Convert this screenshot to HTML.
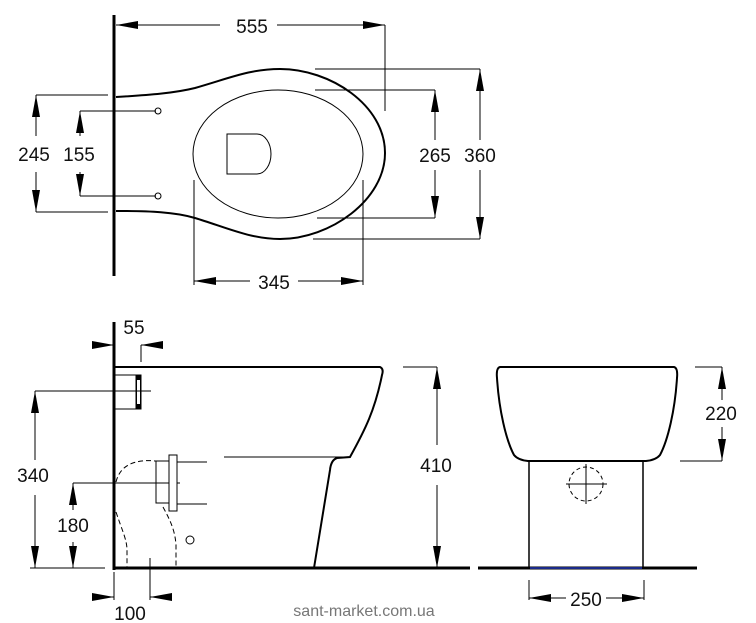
<!DOCTYPE html>
<html><head><meta charset="utf-8"><style>
html,body{margin:0;padding:0;background:#fff;}
svg{display:block;}
text{font-family:"Liberation Sans",sans-serif;font-size:19px;fill:#111;text-anchor:middle;}
</style></head><body>
<svg width="756" height="623" viewBox="0 0 756 623" xmlns="http://www.w3.org/2000/svg">
<defs>
<marker id="b" viewBox="0 0 22 8" refX="22" refY="4" markerWidth="22" markerHeight="8" markerUnits="userSpaceOnUse" orient="auto-start-reverse"><path d="M0,0L22,4L0,8z" fill="#000"/></marker>
</defs>
<g stroke="#000" fill="none" stroke-width="1">
<line x1="114" y1="15" x2="114" y2="276" stroke-width="3"/>
<line x1="116" y1="25" x2="220" y2="25" marker-start="url(#b)"/>
<line x1="277" y1="25" x2="385" y2="25" marker-end="url(#b)"/>
<line x1="385" y1="25" x2="385" y2="111"/>
<path d="M116,97 C150,95 175,93 195,88 C230,78 250,69 280,69 C330,69 385,105 385,153 C385,200 330,239 280,239 C250,239 225,227 195,218 C175,212 150,211 116,211" stroke-width="2"/>
<ellipse cx="278" cy="154" rx="85" ry="64"/>
<path d="M227,134 L257,134 A14,20 0 0 1 257,174 L227,174 Z"/>
<circle cx="158" cy="111" r="3"/><circle cx="158" cy="196" r="3"/>
<line x1="36" y1="95" x2="108" y2="95"/><line x1="36" y1="212" x2="108" y2="212"/>
<line x1="36" y1="95" x2="36" y2="136" marker-start="url(#b)"/>
<line x1="36" y1="172" x2="36" y2="212" marker-end="url(#b)"/>
<line x1="80" y1="111" x2="156" y2="111"/><line x1="80" y1="196" x2="156" y2="196"/>
<line x1="80" y1="111" x2="80" y2="136" marker-start="url(#b)"/>
<line x1="80" y1="172" x2="80" y2="196" marker-end="url(#b)"/>
<line x1="315" y1="90" x2="435" y2="90"/><line x1="317" y1="218" x2="435" y2="218"/>
<line x1="435" y1="90" x2="435" y2="140" marker-start="url(#b)"/>
<line x1="435" y1="170" x2="435" y2="218" marker-end="url(#b)"/>
<line x1="315" y1="69" x2="480" y2="69"/><line x1="313" y1="239" x2="480" y2="239"/>
<line x1="480" y1="69" x2="480" y2="140" marker-start="url(#b)"/>
<line x1="480" y1="170" x2="480" y2="239" marker-end="url(#b)"/>
<line x1="194" y1="180" x2="194" y2="285"/><line x1="363" y1="180" x2="363" y2="285"/>
<line x1="194" y1="281" x2="250" y2="281" marker-start="url(#b)"/>
<line x1="298" y1="281" x2="363" y2="281" marker-end="url(#b)"/>
<line x1="114" y1="322" x2="114" y2="570" stroke-width="3"/>
<line x1="114" y1="568" x2="470" y2="568" stroke-width="3"/>
<path d="M115,367 L380,367 Q384,369 382,375 C375,410 365,430 350,457 L337,458 Q331,460 330,470 L314,568" stroke-width="2"/>
<line x1="224" y1="457" x2="350" y2="457"/>
<line x1="93" y1="345" x2="114" y2="345" marker-end="url(#b)"/>
<line x1="162" y1="345" x2="141" y2="345" marker-end="url(#b)"/>
<line x1="141" y1="345" x2="141" y2="362"/>
<rect x="115" y="375" width="26" height="34"/>
<rect x="136" y="375" width="5" height="34" fill="#000"/>
<rect x="137" y="380" width="3" height="24" fill="#fff" stroke="none"/>
<line x1="35" y1="391" x2="151" y2="391"/>
<line x1="35" y1="391" x2="35" y2="460" marker-start="url(#b)"/>
<line x1="35" y1="495" x2="35" y2="568" marker-end="url(#b)"/>
<line x1="30" y1="568" x2="105" y2="568"/>
<line x1="73" y1="483" x2="180" y2="483"/>
<line x1="73" y1="483" x2="73" y2="510" marker-start="url(#b)"/>
<line x1="73" y1="542" x2="73" y2="568" marker-end="url(#b)"/>
<rect x="156" y="461" width="15" height="42"/>
<rect x="169" y="455" width="8" height="56" fill="#fff"/>
<line x1="177" y1="462" x2="207" y2="462"/><line x1="177" y1="504" x2="207" y2="504"/>
<g stroke-dasharray="5,3">
<path d="M116,482 C120,465 135,459 156,461"/>
<path d="M116,512 C122,530 127,540 127,550 L127,568"/>
<path d="M163,507 C170,520 175,530 176,545 L176,568"/>
</g>
<circle cx="190" cy="540" r="4"/>
<line x1="403" y1="367" x2="437" y2="367"/>
<line x1="437" y1="367" x2="437" y2="445" marker-start="url(#b)"/>
<line x1="437" y1="485" x2="437" y2="568" marker-end="url(#b)"/>
<line x1="114" y1="572" x2="114" y2="600"/><line x1="150" y1="558" x2="150" y2="600"/>
<line x1="93" y1="597" x2="114" y2="597" marker-end="url(#b)"/>
<line x1="170" y1="597" x2="150" y2="597" marker-end="url(#b)"/>
<path d="M500,367 L674,367 Q678,368 677,378 C675,410 668,440 660,455 Q656,460 646,461 L528,461 Q518,460 514,455 C506,440 499,410 497,378 Q496,368 500,367 Z" stroke-width="2"/>
<line x1="529" y1="462" x2="529" y2="568" stroke-width="1.5"/>
<line x1="643" y1="462" x2="643" y2="568" stroke-width="1.5"/>
<line x1="478" y1="568" x2="697" y2="568" stroke-width="3"/>
<line x1="530" y1="568" x2="642" y2="568" stroke="#1a2a8a" stroke-width="2"/>
<circle cx="586" cy="484" r="17" stroke-dasharray="4,3"/>
<line x1="566" y1="484" x2="607" y2="484"/><line x1="586" y1="464" x2="586" y2="504"/>
<line x1="695" y1="367" x2="722" y2="367"/><line x1="680" y1="461" x2="722" y2="461"/>
<line x1="722" y1="367" x2="722" y2="400" marker-start="url(#b)"/>
<line x1="722" y1="427" x2="722" y2="461" marker-end="url(#b)"/>
<line x1="529" y1="580" x2="529" y2="600"/><line x1="644" y1="580" x2="644" y2="600"/>
<line x1="529" y1="598" x2="566" y2="598" marker-start="url(#b)"/>
<line x1="606" y1="598" x2="644" y2="598" marker-end="url(#b)"/>
</g>
<g>
<text x="252" y="33">555</text>
<text x="34" y="161">245</text>
<text x="79" y="161">155</text>
<text x="435" y="162">265</text>
<text x="480" y="162">360</text>
<text x="274" y="289">345</text>
<text x="134" y="334">55</text>
<text x="33" y="482">340</text>
<text x="73" y="532">180</text>
<text x="436" y="472">410</text>
<text x="130" y="620">100</text>
<text x="721" y="420">220</text>
<text x="586" y="606">250</text>
<text x="364" y="616" style="font-size:16px;fill:#777">sant-market.com.ua</text>
</g>
</svg>
</body></html>
